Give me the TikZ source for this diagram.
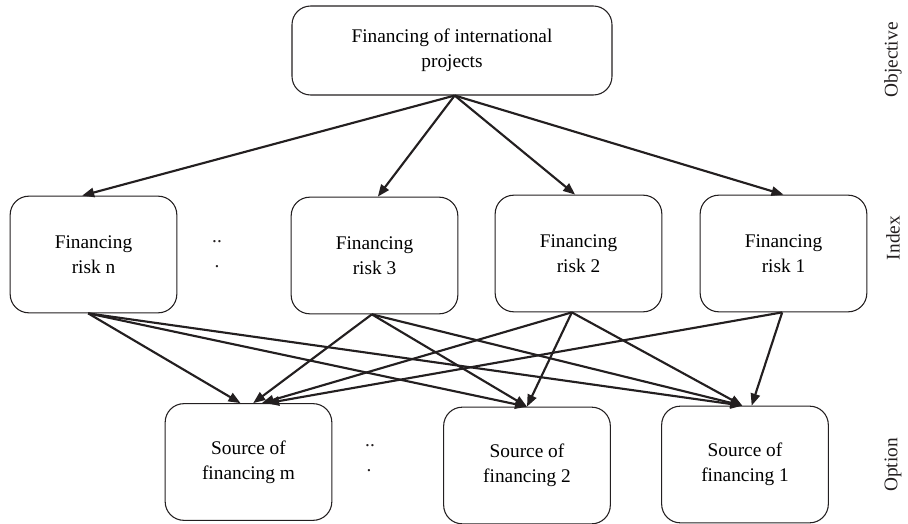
\documentclass[tikz,border=0pt]{standalone}
\usepackage{fontspec}
\setmainfont{Liberation Serif}
\usetikzlibrary{arrows.meta, positioning}
\definecolor{cink}{HTML}{231F20}
\tikzset{
  every picture/.style={font=\fontsize{14.5}{18.75}\selectfont, line width=0.8pt},
  box/.style={draw=cink, rounded corners=14pt, align=center, minimum width=125pt, minimum height=87.5pt, inner sep=2pt},
  arrow/.style={-{Triangle[length=9pt, width=7pt]}, draw=cink, line width=1.6pt},
  level/.style={rotate=90, text=cink},
  dots/.style={text=cink, anchor=base, inner sep=0pt},
}

\begin{document}
\begin{tikzpicture}[x=0.75pt, y=-0.75pt]
  \useasboundingbox (0,0) rectangle (908,524);
  % objective
  \node[box, minimum width=240pt, minimum height=66.75pt] (goal) at (452,50.5) {Financing of international\\projects};
  % index level
  \node[box] (rn) at (93.5,254.5) {Financing\\risk n};
  \node[box] (r3) at (374.5,255.5) {Financing\\risk 3};
  \node[box] (r2) at (578.5,253.5) {Financing\\risk 2};
  \node[box] (r1) at (783.5,253.5) {Financing\\risk 1};
  \node[dots] (rdots) at (217,243) {..};
  \node[dots] (rdot) at (217,268) {.};
  % option level
  \node[box] (sm) at (248.5,462) {Source of\\financing m};
  \node[box] (s2) at (527,465.5) {Source of\\financing 2};
  \node[box] (s1) at (745,464.5) {Source of\\financing 1};
  \node[dots] (sdots) at (370,446) {..};
  \node[dots] (sdot) at (369,471) {.};
  % level names
  \node[level] (obj) at (893,60) {Objective};
  \node[level] (idx) at (893,238) {Index};
  \node[level] (opt) at (893,465) {Option};
  % objective -> index
  \coordinate (apex) at ([xshift=2pt]goal.south);
  \draw[arrow] (apex) -- ([xshift=-8.5pt]rn.north);
  \draw[arrow] (apex) -- ([xshift=2.5pt]r3.north);
  \draw[arrow] (apex) -- ([xshift=-2.5pt]r2.north);
  \draw[arrow] (apex) -- (r1.north);
  % index -> option
  \coordinate (rnb) at ([xshift=-4pt]rn.south);
  \coordinate (r3b) at ([xshift=-2pt]r3.south);
  \coordinate (r2b) at ([xshift=-5pt]r2.south);
  \coordinate (r1b) at ([xshift=-1pt]r1.south);
  \draw[arrow] (rnb) -- ([xshift=-6pt]sm.north);
  \draw[arrow] (rnb) -- (s2.north);
  \draw[arrow] (rnb) -- ([xshift=-2pt]s1.north);
  \draw[arrow] (r3b) -- ([xshift=3.5pt]sm.north);
  \draw[arrow] (r3b) -- (s2.north);
  \draw[arrow] (r3b) -- ([xshift=-2pt]s1.north);
  \draw[arrow] (r2b) -- ([xshift=10pt]sm.north);
  \draw[arrow] (r2b) -- (s2.north);
  \draw[arrow] (r2b) -- ([xshift=-2pt]s1.north);
  \draw[arrow] (r1b) -- ([xshift=14pt]sm.north);
  \draw[arrow] (r1b) -- ([xshift=5pt]s1.north);
\end{tikzpicture}
\end{document}
